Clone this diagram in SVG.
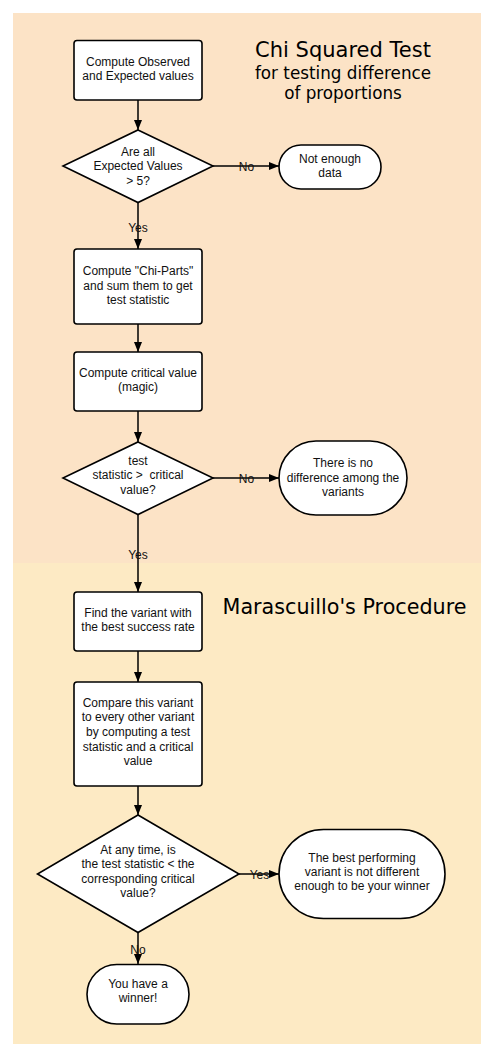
<svg xmlns="http://www.w3.org/2000/svg" width="494" height="1058" viewBox="0 0 494 1058">
<defs>
<marker id="ah" viewBox="0 0 10 8" refX="10" refY="4" markerWidth="10" markerHeight="8" markerUnits="userSpaceOnUse" orient="auto">
<path d="M0,0 L10,4 L0,8 Z" fill="#000"/>
</marker>
<style>
.n{fill:#fff;stroke:#000;stroke-width:1.6}
.t{font-family:"Liberation Sans",Arial,sans-serif;font-size:12px;fill:#111;text-anchor:middle}
.c{fill:none;stroke:#000;stroke-width:1.5;marker-end:url(#ah)}
.h{font-family:"DejaVu Sans",sans-serif;fill:#000;text-anchor:middle}
</style>
</defs>
<rect width="494" height="1058" fill="#fff"/>
<g id="panel-chi">
<rect x="13" y="13" width="468" height="550" fill="#fce3c6"/>
<text class="h" x="343" y="57" font-size="21">Chi Squared Test</text>
<text class="h" x="343" y="79" font-size="16.8">for testing difference</text>
<text class="h" x="343" y="99" font-size="16.8">of proportions</text>
</g>
<g id="panel-marascuillo">
<rect x="13" y="563" width="468" height="481" fill="#fdeac4"/>
<text class="h" x="344.5" y="614" font-size="20.7">Marascuillo's Procedure</text>
</g>
<g id="connectors">
<line class="c" x1="138" y1="100" x2="138" y2="130"/>
<line class="c" x1="213" y1="166" x2="279" y2="166"/>
<line class="c" x1="138" y1="202" x2="138" y2="249"/>
<line class="c" x1="138" y1="324" x2="138" y2="352"/>
<line class="c" x1="138" y1="411" x2="138" y2="442"/>
<line class="c" x1="213" y1="478" x2="279" y2="478"/>
<line class="c" x1="138" y1="514" x2="138" y2="592"/>
<line class="c" x1="138" y1="651" x2="138" y2="682"/>
<line class="c" x1="138" y1="786" x2="138" y2="815"/>
<line class="c" x1="239" y1="874" x2="279" y2="874"/>
<line class="c" x1="138" y1="932" x2="138" y2="964"/>
<text class="t" x="246.5" y="170.5">No</text>
<text class="t" x="138" y="232">Yes</text>
<text class="t" x="246.5" y="482.5">No</text>
<text class="t" x="138" y="559">Yes</text>
<text class="t" x="259.5" y="878.5">Yes</text>
<text class="t" x="138" y="954">No</text>
</g>
<g id="n1">
<rect class="n" x="74" y="40.5" width="128" height="59.5" rx="3"/>
<text class="t" x="138" y="65.5">Compute Observed</text>
<text class="t" x="138" y="79.5">and Expected values</text>
</g>
<g id="n2">
<polygon class="n" points="138,130 213,166 138,202.5 63,166"/>
<text class="t" x="138" y="156">Are all</text>
<text class="t" x="138" y="170.3">Expected Values</text>
<text class="t" x="138" y="184.5">&gt; 5?</text>
</g>
<g id="n3">
<rect class="n" x="279" y="145" width="102" height="44" rx="22"/>
<text class="t" x="330" y="162.7">Not enough</text>
<text class="t" x="330" y="176.7">data</text>
</g>
<g id="n4">
<rect class="n" x="74" y="249" width="128" height="75" rx="3"/>
<text class="t" x="138" y="275">Compute "Chi-Parts"</text>
<text class="t" x="138" y="289.5">and sum them to get</text>
<text class="t" x="138" y="304">test statistic</text>
</g>
<g id="n5">
<rect class="n" x="74" y="352" width="128" height="59" rx="3"/>
<text class="t" x="138" y="376.5">Compute critical value</text>
<text class="t" x="138" y="390.7">(magic)</text>
</g>
<g id="n6">
<polygon class="n" points="138,442 213,478 138,514.5 63,478"/>
<text class="t" x="138" y="464.5">test</text>
<text class="t" x="138" y="479.3" xml:space="preserve">statistic &gt;  critical</text>
<text class="t" x="138" y="493.5">value?</text>
</g>
<g id="n7">
<rect class="n" x="279" y="441" width="128" height="74" rx="37"/>
<text class="t" x="343" y="466.7">There is no</text>
<text class="t" x="343" y="481.5">difference among the</text>
<text class="t" x="343" y="496">variants</text>
</g>
<g id="n8">
<rect class="n" x="74" y="592" width="128" height="59" rx="3"/>
<text class="t" x="138" y="616.7">Find the variant with</text>
<text class="t" x="138" y="630.7">the best success rate</text>
</g>
<g id="n9">
<rect class="n" x="74" y="682" width="128" height="104" rx="3"/>
<text class="t" x="138" y="706.7">Compare this variant</text>
<text class="t" x="138" y="721.3">to every other variant</text>
<text class="t" x="138" y="736">by computing a test</text>
<text class="t" x="138" y="750.5">statistic and a critical</text>
<text class="t" x="138" y="765">value</text>
</g>
<g id="n10">
<polygon class="n" points="138,815 239,874 138,932.5 37.5,874"/>
<text class="t" x="138" y="854">At any time, is</text>
<text class="t" x="138" y="868.3">the test statistic &lt; the</text>
<text class="t" x="138" y="882.7">corresponding critical</text>
<text class="t" x="138" y="896.7">value?</text>
</g>
<g id="n11">
<rect class="n" x="279" y="829.5" width="166" height="89" rx="44.5"/>
<text class="t" x="362" y="861.7">The best performing</text>
<text class="t" x="362" y="876">variant is not different</text>
<text class="t" x="362" y="890.3">enough to be your winner</text>
</g>
<g id="n12">
<rect class="n" x="87" y="964.5" width="102" height="59.5" rx="29.75"/>
<text class="t" x="138" y="988.3">You have a</text>
<text class="t" x="138" y="1002.3">winner!</text>
</g>
</svg>
